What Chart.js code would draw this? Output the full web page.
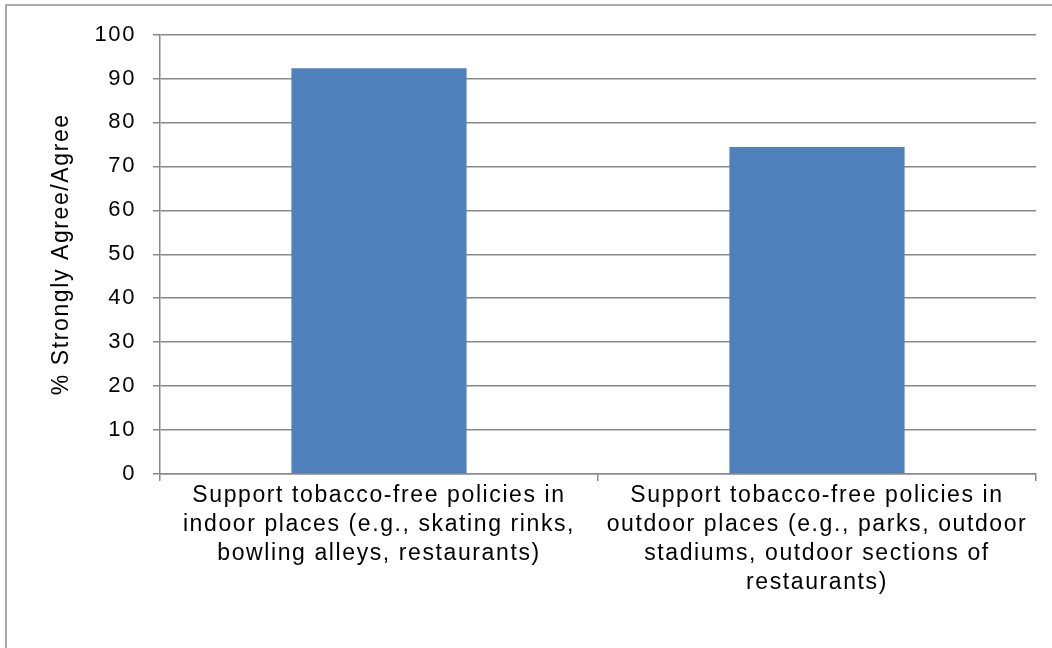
<!DOCTYPE html>
<html>
<head>
<meta charset="utf-8">
<script src="https://cdn.jsdelivr.net/npm/chart.js@4/dist/chart.umd.min.js"></script>
<style>
  html, body { margin: 0; padding: 0; background: #fff; }
  #wrap { width: 1052px; height: 648px; }
</style>
</head>
<body>
<div id="wrap"><canvas id="myChart" width="1052" height="648"></canvas></div>
<script>
var categories = [
    ['Support tobacco-free policies in', 'indoor places (e.g., skating rinks,', 'bowling alleys, restaurants)'],
    ['Support tobacco-free policies in', 'outdoor places (e.g., parks, outdoor', 'stadiums, outdoor sections of', 'restaurants)']
];
var agreeValues = [92.3, 74.4];
var axisTitle = '% Strongly Agree/Agree';

var barColor = '#4F81BD';
var lineColor = '#898989';
var fontFamily = '"Liberation Sans", Arial, sans-serif';

// office style text is a bit wider than plain canvas text
function spaced(chart) {
    chart.ctx.letterSpacing = '1.6px';
}

// thin frame round the whole chart, like the office chart box
var frame = {
    id: 'frame',
    beforeUpdate: spaced,
    beforeDraw: function (chart) {
        var ctx = chart.ctx;
        spaced(chart);
        ctx.save();
        ctx.fillStyle = '#fff';
        ctx.fillRect(0, 0, chart.width, chart.height);
        ctx.strokeStyle = '#8f8f8f';
        ctx.lineWidth = 1.5;
        ctx.strokeRect(6, 5, chart.width + 50, chart.height + 50);
        ctx.restore();
    }
};

var ctx = document.getElementById('myChart').getContext('2d');
var myNewChart = new Chart(ctx, {
    type: 'bar',
    data: {
        labels: categories,
        datasets: [{
            label: axisTitle,
            data: agreeValues,
            backgroundColor: barColor,
            borderWidth: 0,
            categoryPercentage: 0.8,
            barPercentage: 0.5
        }]
    },
    options: {
        responsive: false,
        animation: false,
        layout: { padding: { top: 34.5, right: 16, bottom: 0, left: 0 } },
        plugins: {
            legend: { display: false },
            tooltip: { enabled: false }
        },
        scales: {
            x: {
                offset: true,
                grid: {
                    display: true,
                    drawOnChartArea: false,
                    drawTicks: true,
                    tickLength: 7,
                    color: lineColor,
                    lineWidth: 1.5,
                    offset: true
                },
                border: { display: true, color: lineColor, width: 1.5 },
                ticks: {
                    color: '#000',
                    autoSkip: false,
                    maxRotation: 0,
                    padding: 0,
                    font: { family: fontFamily, size: 23, lineHeight: 1.26 }
                },
                afterFit: function (scale) { scale.height = 174; }
            },
            y: {
                min: 0,
                max: 100,
                ticks: {
                    stepSize: 10,
                    color: '#000',
                    padding: 17,
                    font: { family: fontFamily, size: 22 }
                },
                grid: {
                    color: lineColor,
                    lineWidth: 1.5,
                    drawTicks: true,
                    tickLength: 7
                },
                border: { display: true, color: lineColor, width: 1.5 },
                title: {
                    display: true,
                    text: axisTitle,
                    color: '#000',
                    padding: { top: 48, bottom: 0 },
                    font: { family: fontFamily, size: 23 }
                },
                afterFit: function (scale) { scale.width = 160; }
            }
        }
    },
    plugins: [frame]
});
</script>
</body>
</html>
